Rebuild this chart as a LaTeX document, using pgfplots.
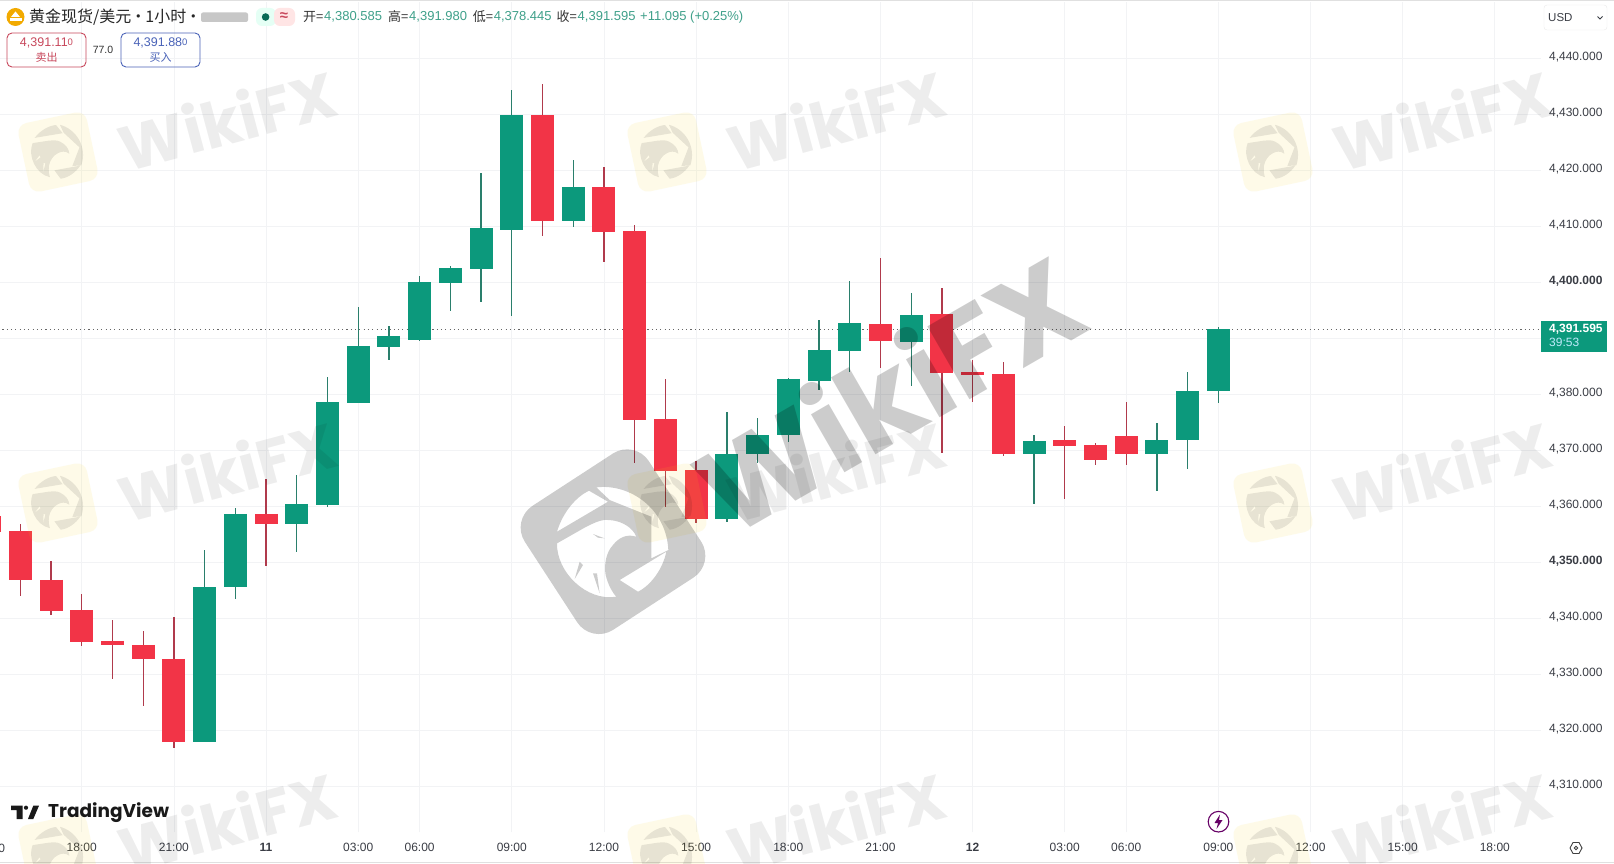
\documentclass[border=0pt]{standalone}
\usepackage{fontspec}
\usepackage{pgfplots}
\usepackage{pgfplotstable}
\pgfplotsset{compat=1.18}
\setmainfont{Liberation Sans}
\newfontfamily\cjk{Noto Sans CJK SC}
\newfontfamily\wmfont{Poppins}
\newfontfamily\tvfont{Poppins}

\definecolor{upgreen}{HTML}{0C997C}
\definecolor{downred}{HTML}{F23447}
\definecolor{wickgreen}{HTML}{2A7F6C}
\definecolor{wickred}{HTML}{B03A4C}
\definecolor{gridc}{HTML}{F2F3F5}
\definecolor{txt}{HTML}{3A3D45}
\definecolor{ohlc}{HTML}{3FA08A}
\definecolor{btnred}{HTML}{C8485C}
\definecolor{btnblue}{HTML}{4A63B8}

% candles: hour index, high, body top, body bottom, low
\pgfplotstableread{
i high top bot low
-1 4358.2 4358.2 4355.4 4355.4
0 4356.7 4355.5 4346.7 4344.0
1 4350.2 4346.8 4341.3 4340.6
2 4344.3 4341.4 4335.8 4335.0
3 4339.6 4335.9 4335.1 4329.2
4 4337.7 4335.2 4332.6 4324.3
5 4340.2 4332.7 4317.9 4316.8
8 4364.9 4358.6 4356.8 4349.3
17 4435.4 4429.8 4410.9 4408.3
19 4420.6 4417.0 4409.0 4403.6
20 4410.1 4409.1 4375.4 4367.6
21 4382.7 4375.5 4366.3 4359.9
22 4368.1 4366.4 4357.6 4356.9
28 4404.3 4392.5 4389.5 4384.6
30 4398.9 4394.3 4383.8 4369.4
31 4386.0 4383.9 4383.4 4378.6
32 4385.8 4383.6 4369.2 4369.0
34 4374.3 4371.7 4370.8 4361.2
35 4371.2 4370.9 4368.3 4367.3
36 4378.6 4372.5 4369.2 4367.3
}\reddata
\pgfplotstableread{
i high top bot low
6 4352.2 4345.5 4317.9 4317.9
7 4359.6 4358.6 4345.6 4343.4
9 4365.5 4360.4 4356.8 4351.8
10 4383.1 4378.5 4360.1 4359.9
11 4395.6 4388.6 4378.4 4378.4
12 4392.1 4390.4 4388.4 4386.1
13 4401.1 4400.0 4389.6 4389.4
14 4402.9 4402.5 4399.9 4394.9
15 4419.5 4409.6 4402.4 4396.5
16 4434.3 4429.8 4409.3 4393.9
18 4421.8 4417.0 4410.9 4409.9
23 4376.8 4369.3 4357.6 4357.1
24 4375.8 4372.6 4369.2 4367.7
25 4382.9 4382.7 4372.6 4371.5
26 4393.2 4387.9 4382.4 4380.7
27 4400.1 4392.7 4387.7 4384.0
29 4398.1 4394.1 4389.3 4381.5
33 4372.7 4371.6 4369.2 4360.4
37 4374.8 4371.7 4369.2 4362.7
38 4383.9 4380.5 4371.7 4366.6
39 4391.98 4391.595 4380.585 4378.445
}\greendata

\pgfplotsset{
  wick/.style={draw=none, no marks, forget plot,
    error bars/.cd, y dir=both, y explicit, error mark=none,
    error bar style={draw=#1, line width=1.3pt}},
  body/.style={draw=none, no marks, forget plot,
    error bars/.cd, y dir=minus, y explicit, error mark=none,
    error bar style={draw=#1, line width=23pt}},
}

% eagle, raw units about the centre of the round emblem, y downwards
\def\eaglepath{
  (-168,-30) .. controls (-150,-90) and (-110,-135) .. (-72,-153) -- (-15,-120) -- cycle
  (-50,-163) .. controls (50,-175) and (160,-100) .. (166,25) -- (115,50) -- (115,-75) -- (-10,-125) -- cycle
  (20,115) -- (160,30) .. controls (150,80) and (115,130) .. (75,150) -- cycle
  (-168,5) -- (-80,-45) .. controls (-50,-60) and (-30,-68) .. (-10,-65)
    .. controls (30,-62) and (60,-40) .. (70,-15)
    .. controls (40,-25) and (15,-10) .. (0,10)
    .. controls (-20,30) and (-28,70) .. (-22,100)
    .. controls (-15,130) and (0,155) .. (10,165)
    .. controls (-80,180) and (-170,90) .. (-168,5) -- cycle
  (-100,60) -- (-115,112) -- (-90,70) -- cycle
  (-60,95) -- (-40,155) -- (-48,95) -- cycle
  (-60,-23) -- (-25,-10) -- (-45,-12) -- cycle
}

\newcommand\wmtile[2]{%
  \begin{scope}[shift={(#1,#2)}]
    \begin{scope}[rotate=12]
      \fill[yellow!70!orange, opacity=.09, rounded corners=10pt] (-35,-35) rectangle (35,35);
    \end{scope}
    \begin{scope}[rotate=-21, x=.16pt, y=-.16pt]
      \fill[black, opacity=.09] \eaglepath;
    \end{scope}
    \node[rotate=15, text=black, text opacity=.07, font=\wmfont\bfseries\fontsize{63}{63}\selectfont] at (169,-33) {WikiFX};
  \end{scope}}

\newcommand\ohlcpair[3]{%
  \node[anchor=west, inner sep=0pt, text=black!80, font=\cjk\fontsize{13}{15}\selectfont] at (#1,17) {#2=};
  \node[anchor=west, inner sep=0pt, text=ohlc, font=\fontsize{13}{15}\selectfont] at (#1+21,17) {#3};}

\begin{document}
\begin{tikzpicture}
\path[use as bounding box, fill=white] (0pt,0pt) rectangle (1614pt,863pt);
\begin{axis}[
  at={(0pt,31pt)}, anchor=south west,
  scale only axis, width=1541pt, height=830pt,
  xmin=-0.661, xmax=49.505, ymin=4301.79, ymax=4450,
  axis line style={draw=none}, tick style={draw=none},
  major tick length=0pt,
  xmajorgrids, ymajorgrids,
  grid style={gridc, line width=0.8pt},
  yticklabel pos=right,
  xtick={2,5,8,11,13,16,19,22,25,28,31,34,36,39,42,45,48},
  xticklabels={18:00,21:00,\textbf{11},03:00,06:00,09:00,12:00,15:00,18:00,21:00,\textbf{12},03:00,06:00,09:00,12:00,15:00,18:00},
  ytick={4310,4320,...,4440},
  yticklabels={4{,}310.000,4{,}320.000,4{,}330.000,4{,}340.000,\textbf{4{,}350.000},4{,}360.000,4{,}370.000,4{,}380.000,4{,}390.000,\textbf{4{,}400.000},4{,}410.000,4{,}420.000,4{,}430.000,4{,}440.000},
  ticklabel style={font=\fontsize{12}{14}\selectfont, text=txt},
  xticklabel style={anchor=center, yshift=-15.7pt},
  yticklabel style={anchor=west, xshift=4.5pt, yshift=1pt},
]
\addplot[draw=black!60, line width=0.9pt, dash pattern=on 1.1pt off 3.2pt, forget plot] coordinates {(-1,4391.595) (50,4391.595)};
\addplot[wick=wickred] table[x=i, y=top, y error plus expr=\thisrow{high}-\thisrow{top}, y error minus expr=\thisrow{top}-\thisrow{low}] {\reddata};
\addplot[body=downred] table[x=i, y=top, y error minus expr=\thisrow{top}-\thisrow{bot}] {\reddata};
\addplot[wick=wickgreen] table[x=i, y=top, y error plus expr=\thisrow{high}-\thisrow{top}, y error minus expr=\thisrow{top}-\thisrow{low}] {\greendata};
\addplot[body=upgreen] table[x=i, y=top, y error minus expr=\thisrow{top}-\thisrow{bot}] {\greendata};
\end{axis}

\begin{scope}[shift={(0pt,863pt)}, x=1pt, y=-1pt]
  \clip (0,0) rectangle (1614,863);
  % frame lines of the widget
  \draw[black!12, line width=1pt] (0,1) -- (1614,1);
  \draw[black!12, line width=1pt] (0,862) -- (1614,862);
  \node[font=\fontsize{12}{14}\selectfont, text=txt] at (-10,848) {15:00};

  % tiled watermark
  \foreach \yy in {152,503,854} {
    \foreach \xx in {58,667,1273} {
      \wmtile{\xx}{\yy}
    }
  }
  % big watermark
  \begin{scope}[shift={(613,541.7)}, x=.3333pt, y=-.3333pt]
    \fill[black, opacity=.2, even odd rule]
      [rounded corners=26pt] (-307,-65) -- (65,-307) -- (307,65) -- (-65,307) -- cycle
      [sharp corners] \eaglepath;
  \end{scope}
  \node[rotate=30, text=black, text opacity=.2, font=\wmfont\bfseries\fontsize{120}{120}\selectfont] at (888,392) {WikiFX};

  % price label on the scale
  \fill[upgreen] (1541,321) rectangle (1607,351.7);
  \node[anchor=west, inner sep=0pt, text=white, font=\bfseries\fontsize{12}{14}\selectfont] at (1549,329) {4,391.595};
  \node[anchor=west, inner sep=0pt, text=cyan!25!white, font=\fontsize{12}{14}\selectfont] at (1549,342.7) {39:53};

  % currency button
  \draw[black!8, fill=white, rounded corners=3pt] (1544,5) rectangle (1607,30);
  \node[anchor=west, inner sep=0pt, text=txt, font=\fontsize{11.5}{14}\selectfont] at (1548,17.5) {USD};
  \draw[txt, line width=.9pt] (1597.5,16.5) -- (1600,19) -- (1602.5,16.5);

  % header
  \fill[orange!60!yellow!95!black] (15.5,17) circle (9);
  \fill[white] (15.5,11.5) -- (20,17) -- (11,17) -- cycle;
  \fill[white] (9.5,18.5) rectangle (21.5,21);
  \node[anchor=west, inner sep=0pt, text=black!85, font=\cjk\fontsize{16}{18}\selectfont] at (29,17) {黄金现货/美元\hspace{-1pt}·\hspace{-1pt}1小时\hspace{-1pt}·};
  \fill[black!22, rounded corners=2pt] (201,12.5) rectangle (248,22);
  \fill[green!40!cyan!10, rounded corners=6pt] (256,8) rectangle (276,26);
  \fill[red!10, rounded corners=6pt] (274,8) rectangle (295,26);
  \fill[upgreen!70!black] (265.6,17) circle (3.8);
  \node[inner sep=0pt, text=btnred, font=\bfseries\fontsize{15}{15}\selectfont] at (284,16.5) {≈};
  \ohlcpair{303}{开}{4,380.585}
  \ohlcpair{388}{高}{4,391.980}
  \ohlcpair{472.6}{低}{4,378.445}
  \ohlcpair{556.5}{收}{4,391.595}
  \node[anchor=west, inner sep=0pt, text=ohlc, font=\fontsize{13}{15}\selectfont] at (640,17) {+11.095 (+0.25\%)};

  % sell and buy buttons
  \draw[btnred, line width=.9pt, rounded corners=5pt] (7,33) rectangle (86,67);
  \node[text=btnred, inner sep=0pt, font=\fontsize{12.5}{14}\selectfont] at (46.5,43) {4,391.11\raisebox{1pt}{\fontsize{9.5}{9}\selectfont 0}};
  \node[text=btnred, inner sep=0pt, font=\cjk\fontsize{11}{13}\selectfont] at (46.5,57) {卖出};
  \node[text=black!80, inner sep=0pt, font=\fontsize{10.5}{12}\selectfont] at (103,50) {77.0};
  \draw[btnblue, line width=.9pt, rounded corners=5pt] (121,33) rectangle (200,67);
  \node[text=btnblue, inner sep=0pt, font=\fontsize{12.5}{14}\selectfont] at (160.5,43) {4,391.88\raisebox{1pt}{\fontsize{9.5}{9}\selectfont 0}};
  \node[text=btnblue, inner sep=0pt, font=\cjk\fontsize{11}{13}\selectfont] at (160.5,57) {买入};

  % TradingView mark
  \fill[black!90] (11,805.7) -- (22.7,805.7) -- (22.7,819) -- (16.7,819) -- (16.7,810) -- (11,810) -- cycle;
  \fill[black!90] (26,807.7) circle (2.1);
  \fill[black!90] (33.3,805.7) -- (39,805.7) -- (33.3,819) -- (28,819) -- cycle;
  \node[anchor=west, inner sep=0pt, text=black!90, font=\tvfont\bfseries\fontsize{18.5}{22}\selectfont] at (48,813) {TradingView};

  % lightning badge and settings icon
  \draw[violet!80!black, line width=1.1pt, fill=white] (1218.5,821.7) circle (10.3);
  \fill[violet!80!black] (1220,814.5) -- (1214.5,823) -- (1218,823) -- (1216.5,829) -- (1222.5,820) -- (1219,820) -- cycle;
  \draw[black!75, line width=.9pt] (1570,848) -- (1573,842.5) -- (1579,842.5) -- (1582,848) -- (1579,853.5) -- (1573,853.5) -- cycle;
  \draw[black!75, line width=.9pt] (1576,848) circle (1.8);
\end{scope}
\end{tikzpicture}
\end{document}
